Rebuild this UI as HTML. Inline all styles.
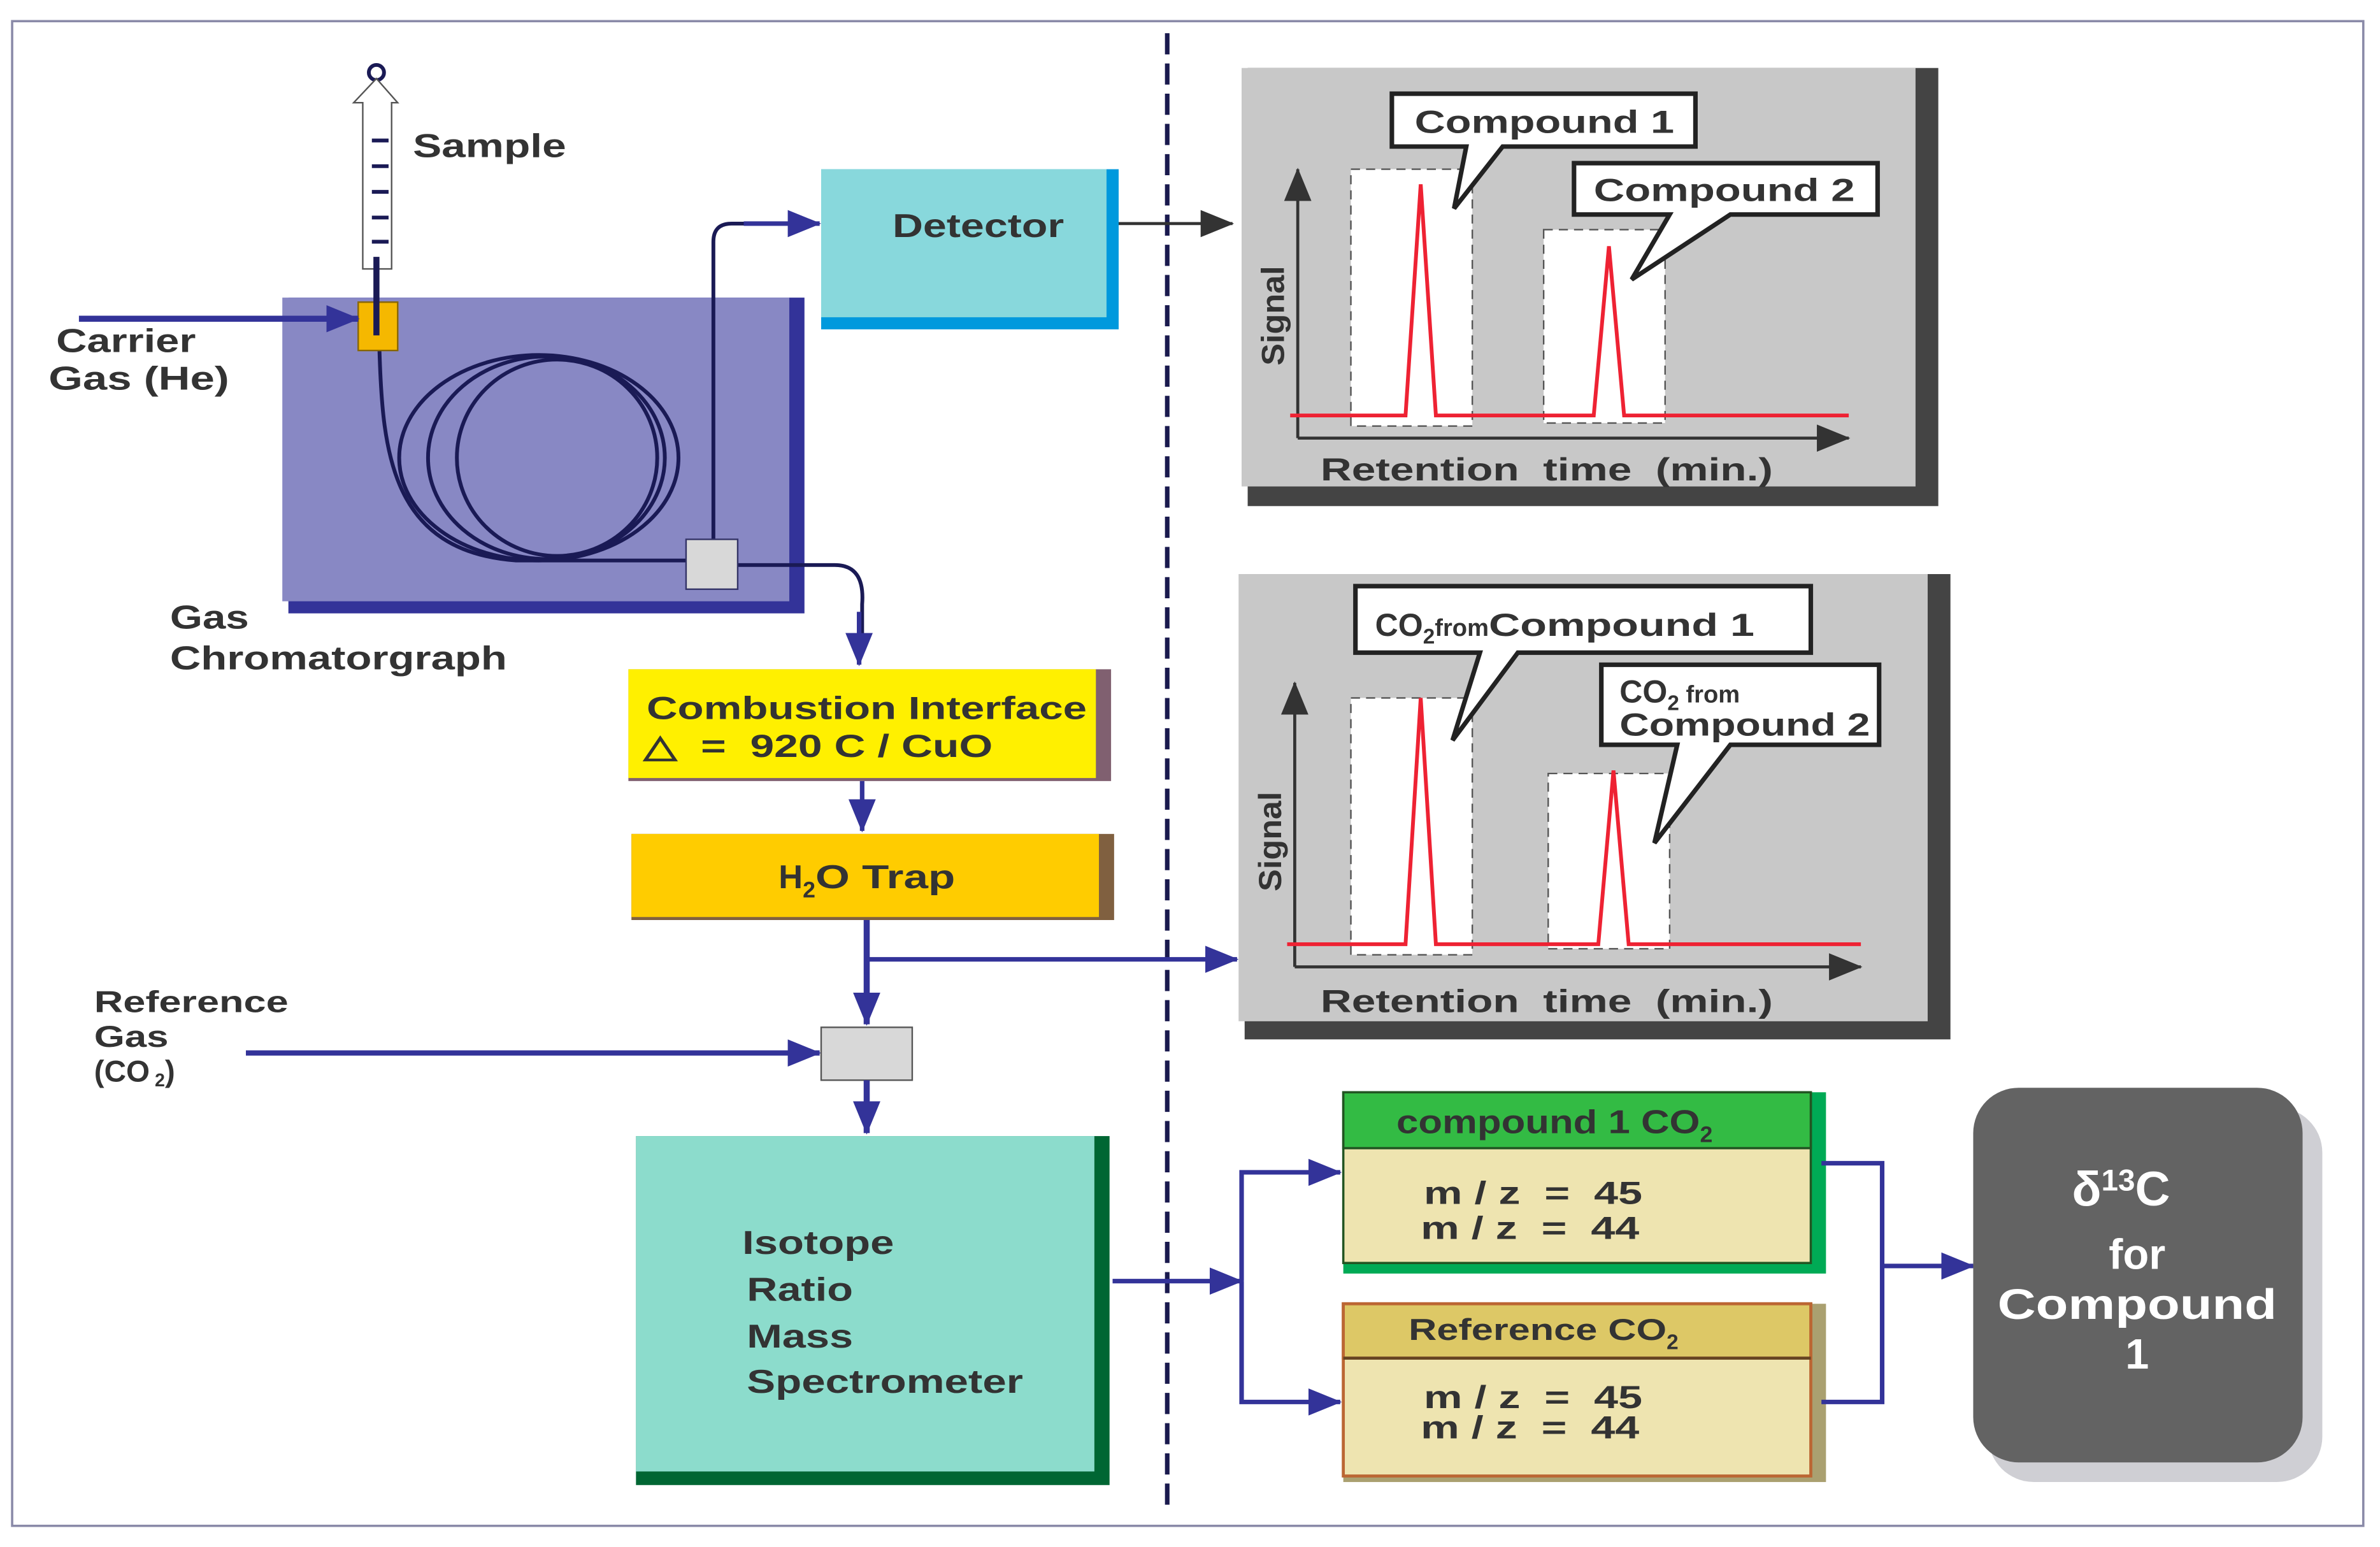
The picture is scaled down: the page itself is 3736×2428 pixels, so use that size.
<!DOCTYPE html>
<html><head><meta charset="utf-8"><style>html,body{margin:0;padding:0;background:#fff}svg{display:block}text{font-family:"Liberation Sans",Arial,sans-serif;font-weight:bold;fill:#333;white-space:pre}</style></head><body>
<svg width="3736" height="2428" viewBox="0 0 1568 1024" preserveAspectRatio="none" xmlns="http://www.w3.org/2000/svg" xml:space="preserve">
<defs>
<marker id="ab" markerWidth="22" markerHeight="18" refX="21" refY="9" orient="auto" markerUnits="userSpaceOnUse"><path d="M0,0L22,9L0,18z" fill="#333399"/></marker>
<marker id="ag" markerWidth="22" markerHeight="18" refX="21" refY="9" orient="auto" markerUnits="userSpaceOnUse"><path d="M0,0L22,9L0,18z" fill="#333"/></marker>
</defs>
<rect x="8" y="14" width="1549" height="996" fill="#fff" stroke="#8a8aa8" stroke-width="1.5"/>
<line x1="769" y1="22" x2="769" y2="1000" stroke="#1a1a4e" stroke-width="3" stroke-dasharray="14,6"/>
<rect x="190" y="197" width="340" height="209" fill="#333399"/>
<rect x="186" y="197" width="334" height="201" fill="#8888c4"/>
<g fill="none" stroke="#1a1a55" stroke-width="2.5">
<ellipse cx="355" cy="303" rx="92" ry="68"/>
<ellipse cx="360" cy="303" rx="78" ry="67"/>
<ellipse cx="367" cy="303" rx="66" ry="65"/>
<path d="M250,232 C252,300 258,365 340,371 L455,371"/>
<path d="M470,357 L470,160 Q470,148 482,148 L492,148"/>
<path d="M486,374 L550,374 Q570,374 568,400 L568,420"/>
</g>
<line x1="490" y1="148" x2="540" y2="148" stroke="#333399" stroke-width="3" marker-end="url(#ab)"/>
<line x1="566" y1="405" x2="566" y2="440" stroke="#333399" stroke-width="3" marker-end="url(#ab)"/>
<rect x="452" y="357" width="34" height="33" fill="#d8d8d8" stroke="#333366" stroke-width="1"/>
<circle cx="248" cy="48" r="5" fill="none" stroke="#1a1a55" stroke-width="2.5"/>
<path d="M248,52 L262,68 L258,68 L258,178 L239,178 L239,68 L233,68 Z" fill="#fff" stroke="#555" stroke-width="1"/>
<g stroke="#1a1a55" stroke-width="2.5"><line x1="245" y1="93" x2="256" y2="93"/><line x1="245" y1="110" x2="256" y2="110"/><line x1="245" y1="127" x2="256" y2="127"/><line x1="245" y1="144" x2="256" y2="144"/><line x1="245" y1="160" x2="256" y2="160"/></g>
<rect x="236" y="200" width="26" height="32" fill="#f5b800" stroke="#886600" stroke-width="1"/>
<line x1="248" y1="170" x2="248" y2="222" stroke="#1a1a55" stroke-width="4"/>
<line x1="52" y1="211" x2="236" y2="211" stroke="#333399" stroke-width="4" marker-end="url(#ab)"/>
<text x="272" y="104" font-size="22" textLength="101" lengthAdjust="spacingAndGlyphs">Sample</text>
<text x="37" y="233" font-size="22" textLength="92" lengthAdjust="spacingAndGlyphs">Carrier</text>
<text x="32" y="258" font-size="22" textLength="119" lengthAdjust="spacingAndGlyphs">Gas (He)</text>
<text x="112" y="416" font-size="22" textLength="52" lengthAdjust="spacingAndGlyphs">Gas</text>
<text x="112" y="443" font-size="22" textLength="222" lengthAdjust="spacingAndGlyphs">Chromatorgraph</text>
<rect x="541" y="112" width="196" height="106" fill="#0099dd"/>
<rect x="541" y="112" width="188" height="98" fill="#88d8dc"/>
<text x="588" y="157" font-size="22" textLength="113" lengthAdjust="spacingAndGlyphs">Detector</text>
<line x1="737" y1="148" x2="812" y2="148" stroke="#333" stroke-width="2" marker-end="url(#ag)"/>
<rect x="414" y="443" width="318" height="74" fill="#806070"/>
<rect x="414" y="443" width="308" height="72" fill="#fff000"/>
<text x="426" y="476" font-size="21" textLength="290" lengthAdjust="spacingAndGlyphs">Combustion Interface</text>
<text x="424" y="501" font-size="21" textLength="230" lengthAdjust="spacingAndGlyphs">△  =  920 C / CuO</text>
<line x1="568" y1="517" x2="568" y2="550" stroke="#333399" stroke-width="3" marker-end="url(#ab)"/>
<rect x="416" y="552" width="318" height="57" fill="#806040"/>
<rect x="416" y="552" width="308" height="55" fill="#ffcc00"/>
<text x="513" y="588" font-size="22">H<tspan font-size="15" dy="6">2</tspan><tspan dy="-6" textLength="92" lengthAdjust="spacingAndGlyphs">O Trap</tspan></text>
<line x1="571" y1="609" x2="571" y2="678" stroke="#333399" stroke-width="4" marker-end="url(#ab)"/>
<line x1="571" y1="635" x2="815" y2="635" stroke="#333399" stroke-width="3" marker-end="url(#ab)"/>
<text x="62" y="670" font-size="20" textLength="128" lengthAdjust="spacingAndGlyphs">Reference</text>
<text x="62" y="693" font-size="20" textLength="49" lengthAdjust="spacingAndGlyphs">Gas</text>
<text x="62" y="716" font-size="20">(CO<tspan font-size="12" dy="3"> 2</tspan><tspan dy="-3">)</tspan></text>
<line x1="162" y1="697" x2="540" y2="697" stroke="#333399" stroke-width="3.5" marker-end="url(#ab)"/>
<rect x="541" y="680" width="60" height="35" fill="#d8d8d8" stroke="#555" stroke-width="1"/>
<line x1="571" y1="715" x2="571" y2="750" stroke="#333399" stroke-width="4" marker-end="url(#ab)"/>
<rect x="419" y="752" width="312" height="231" fill="#006633"/>
<rect x="419" y="752" width="302" height="222" fill="#8cdccc"/>
<text x="489" y="830" font-size="22" textLength="100" lengthAdjust="spacingAndGlyphs">Isotope</text>
<text x="492" y="861" font-size="22" textLength="70" lengthAdjust="spacingAndGlyphs">Ratio</text>
<text x="492" y="892" font-size="22" textLength="70" lengthAdjust="spacingAndGlyphs">Mass</text>
<text x="492" y="922" font-size="22" textLength="182" lengthAdjust="spacingAndGlyphs">Spectrometer</text>
<line x1="733" y1="848" x2="818" y2="848" stroke="#333399" stroke-width="3" marker-end="url(#ab)"/>
<polyline points="818,848 818,776 883,776" fill="none" stroke="#333399" stroke-width="3" marker-end="url(#ab)"/>
<polyline points="818,848 818,928 883,928" fill="none" stroke="#333399" stroke-width="3" marker-end="url(#ab)"/>
<rect x="885" y="723" width="318" height="120" fill="#00aa55"/>
<rect x="885" y="723" width="308" height="113" fill="#eee4b0" stroke="#225522" stroke-width="1.5"/>
<rect x="885" y="723" width="308" height="37" fill="#33bb44" stroke="#225522" stroke-width="1.5"/>
<text x="920" y="750" font-size="22"><tspan textLength="200" lengthAdjust="spacingAndGlyphs">compound 1 CO</tspan><tspan font-size="15" dy="6">2</tspan></text>
<text x="938" y="797" font-size="21" textLength="144" lengthAdjust="spacingAndGlyphs">m / z  =  45</text>
<text x="936" y="820" font-size="21" textLength="144" lengthAdjust="spacingAndGlyphs">m / z  =  44</text>
<rect x="885" y="863" width="318" height="118" fill="#aaa070"/>
<rect x="885" y="863" width="308" height="114" fill="#eee4b0" stroke="#bb6633" stroke-width="2"/>
<rect x="885" y="863" width="308" height="36" fill="#ddc866" stroke="#bb6633" stroke-width="2"/>
<line x1="885" y1="899" x2="1193" y2="899" stroke="#664422" stroke-width="2"/>
<text x="928" y="887" font-size="20"><tspan textLength="170" lengthAdjust="spacingAndGlyphs">Reference CO</tspan><tspan font-size="14" dy="6">2</tspan></text>
<text x="938" y="932" font-size="21" textLength="144" lengthAdjust="spacingAndGlyphs">m / z  =  45</text>
<text x="936" y="952" font-size="21" textLength="144" lengthAdjust="spacingAndGlyphs">m / z  =  44</text>
<polyline points="1200,770 1240,770 1240,928 1200,928" fill="none" stroke="#333399" stroke-width="3"/>
<line x1="1240" y1="838" x2="1300" y2="838" stroke="#333399" stroke-width="3" marker-end="url(#ab)"/>
<rect x="1310" y="733" width="220" height="248" rx="30" fill="#cfcfd4"/>
<rect x="1300" y="720" width="217" height="248" rx="30" fill="#636363"/>
<text x="1365" y="798" font-size="32" style="fill:#fff">δ<tspan font-size="20" dy="-10">13</tspan><tspan dy="10">C</tspan></text>
<text x="1408" y="840" font-size="28" text-anchor="middle" style="fill:#fff">for</text>
<text x="1316" y="873" font-size="28" style="fill:#fff" textLength="184" lengthAdjust="spacingAndGlyphs">Compound</text>
<text x="1408" y="906" font-size="28" text-anchor="middle" style="fill:#fff">1</text>
<rect x="822" y="45" width="455" height="290" fill="#444"/>
<rect x="818" y="45" width="444" height="277" fill="#c8c8c8"/>
<rect x="890" y="112" width="80" height="170" fill="#fff" stroke="#555" stroke-dasharray="6,4"/>
<rect x="1017" y="152" width="80" height="128" fill="#fff" stroke="#555" stroke-dasharray="6,4"/>
<line x1="855" y1="290" x2="855" y2="112" stroke="#333" stroke-width="2" marker-end="url(#ag)"/>
<line x1="855" y1="290" x2="1218" y2="290" stroke="#333" stroke-width="2" marker-end="url(#ag)"/>
<polyline points="850,275 926,275 936,122 946,275 1050,275 1060,163 1070,275 1218,275" fill="none" stroke="#ee2233" stroke-width="2.5"/>
<path d="M917,62 L1117,62 L1117,97 L990,97 L958,138 L966,97 L917,97 Z" fill="#fff" stroke="#222" stroke-width="3"/>
<text x="932" y="88" font-size="21" textLength="171" lengthAdjust="spacingAndGlyphs">Compound 1</text>
<path d="M1037,108 L1237,108 L1237,142 L1140,142 L1075,185 L1100,142 L1037,142 Z" fill="#fff" stroke="#222" stroke-width="3"/>
<text x="1050" y="133" font-size="21" textLength="172" lengthAdjust="spacingAndGlyphs">Compound 2</text>
<text transform="translate(846,242) rotate(-90)" font-size="21" textLength="66" lengthAdjust="spacingAndGlyphs">Signal</text>
<text x="870" y="318" font-size="21" textLength="298" lengthAdjust="spacingAndGlyphs">Retention  time  (min.)</text>
<rect x="820" y="380" width="465" height="308" fill="#444"/>
<rect x="816" y="380" width="454" height="296" fill="#c8c8c8"/>
<rect x="890" y="462" width="80" height="170" fill="#fff" stroke="#555" stroke-dasharray="6,4"/>
<rect x="1020" y="512" width="80" height="116" fill="#fff" stroke="#555" stroke-dasharray="6,4"/>
<line x1="853" y1="640" x2="853" y2="452" stroke="#333" stroke-width="2" marker-end="url(#ag)"/>
<line x1="853" y1="640" x2="1226" y2="640" stroke="#333" stroke-width="2" marker-end="url(#ag)"/>
<polyline points="848,625 926,625 936,462 946,625 1053,625 1063,510 1073,625 1226,625" fill="none" stroke="#ee2233" stroke-width="2.5"/>
<path d="M893,388 L1193,388 L1193,432 L1000,432 L957,490 L975,432 L893,432 Z" fill="#fff" stroke="#222" stroke-width="3"/>
<text x="906" y="421" font-size="21">CO<tspan font-size="14" dy="5">2</tspan><tspan font-size="16" dy="-5">from</tspan><tspan font-size="21" textLength="175" lengthAdjust="spacingAndGlyphs">Compound 1</tspan></text>
<path d="M1055,440 L1238,440 L1238,493 L1140,493 L1090,558 L1105,493 L1055,493 Z" fill="#fff" stroke="#222" stroke-width="3"/>
<text x="1067" y="465" font-size="21">CO<tspan font-size="14" dy="5">2</tspan><tspan font-size="16" dy="-5"> from</tspan></text>
<text x="1067" y="487" font-size="21" textLength="165" lengthAdjust="spacingAndGlyphs">Compound 2</text>
<text transform="translate(844,590) rotate(-90)" font-size="21" textLength="66" lengthAdjust="spacingAndGlyphs">Signal</text>
<text x="870" y="670" font-size="21" textLength="298" lengthAdjust="spacingAndGlyphs">Retention  time  (min.)</text>
</svg>
</body></html>
